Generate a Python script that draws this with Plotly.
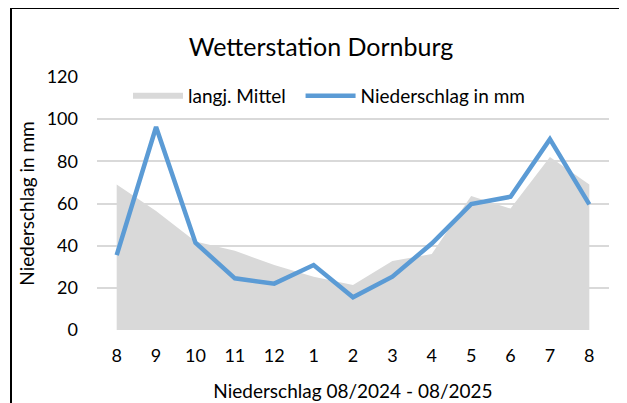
import plotly.graph_objects as go

months = ["8", "9", "10", "11", "12", "1", "2", "3", "4", "5", "6", "7", "8"]
mittel = [69, 56.5, 42, 37.6, 30.8, 25.3, 21.3, 32.7, 36, 63.5, 57.6, 82, 69]
niederschlag = [35.5, 96.3, 41.4, 24.5, 22, 30.8, 15.5, 25.3, 41, 59.7, 63.2, 90.5, 59.6]
y_ticks = [0, 20, 40, 60, 80, 100, 120]

x = list(range(len(months)))
FONT = "Lato"

fig = go.Figure()
fig.add_trace(go.Scatter(
    x=x, y=mittel, name="langj. Mittel\u00a0\u00a0", mode="none",
    fill="tozeroy", fillcolor="#d9d9d9",
))
fig.add_trace(go.Scatter(
    x=x, y=niederschlag, name="Niederschlag in mm", mode="lines",
    line=dict(color="#5b9bd5", width=4.5),
))

OFF = 8  # page body margin
L, R, T, B = 97 - OFF, 609 - OFF, 77 - OFF, 330 - OFF
W, H = 627 - OFF, 403 - OFF
pw, ph = R - L, B - T

def px(v):
    return (v - OFF - L) / pw

def py(v):
    return (B - (v - OFF)) / ph

fig.update_layout(
    width=W, height=H,
    margin=dict(l=L, r=W - R, t=T, b=H - B, pad=0, autoexpand=False),
    paper_bgcolor="white", plot_bgcolor="white",
    font=dict(family=FONT, size=18, color="#000000"),
    title=dict(text="Wetterstation Dornburg", x=(321 - OFF) / W, xanchor="center",
               y=1 - (47 - OFF) / H, yanchor="middle", font=dict(size=25, family=FONT)),
    showlegend=True,
    legend=dict(orientation="h", x=px(128), xanchor="left", y=py(96), yanchor="middle",
                bgcolor="rgba(0,0,0,0)", font=dict(size=19, family=FONT),
                itemwidth=50, tracegroupgap=0),
    xaxis=dict(range=[-0.5, len(months) - 0.5], tickvals=x, ticktext=months,
               showgrid=False, zeroline=False, showline=False, ticks="",
               automargin=False,
               ticklabelstandoff=13, tickfont=dict(size=18),
               title=dict(text="Niederschlag 08/2024 - 08/2025", standoff=19,
                          font=dict(size=19))),
    yaxis=dict(range=[0, 120], tickvals=y_ticks, showgrid=True, gridcolor="#d9d9d9",
               gridwidth=1.5, zeroline=False, showline=False, ticks="",
               automargin=False,
               ticklabelstandoff=18, tickfont=dict(size=18),
               title=dict(text="Niederschlag in mm", standoff=7, font=dict(size=19))),
    shapes=[
        dict(type="line", xref="paper", yref="paper", x0=px(10), x1=px(630), y0=py(8), y1=py(8),
             line=dict(color="black", width=2)),
        dict(type="line", xref="paper", yref="paper", x0=px(11), x1=px(11), y0=py(7), y1=py(410),
             line=dict(color="black", width=2)),
        dict(type="line", xref="paper", yref="paper", x0=px(626), x1=px(626), y0=py(9), y1=py(410),
             line=dict(color="#a6a6a6", width=1)),
    ],
)

fig.write_html("out.html")
